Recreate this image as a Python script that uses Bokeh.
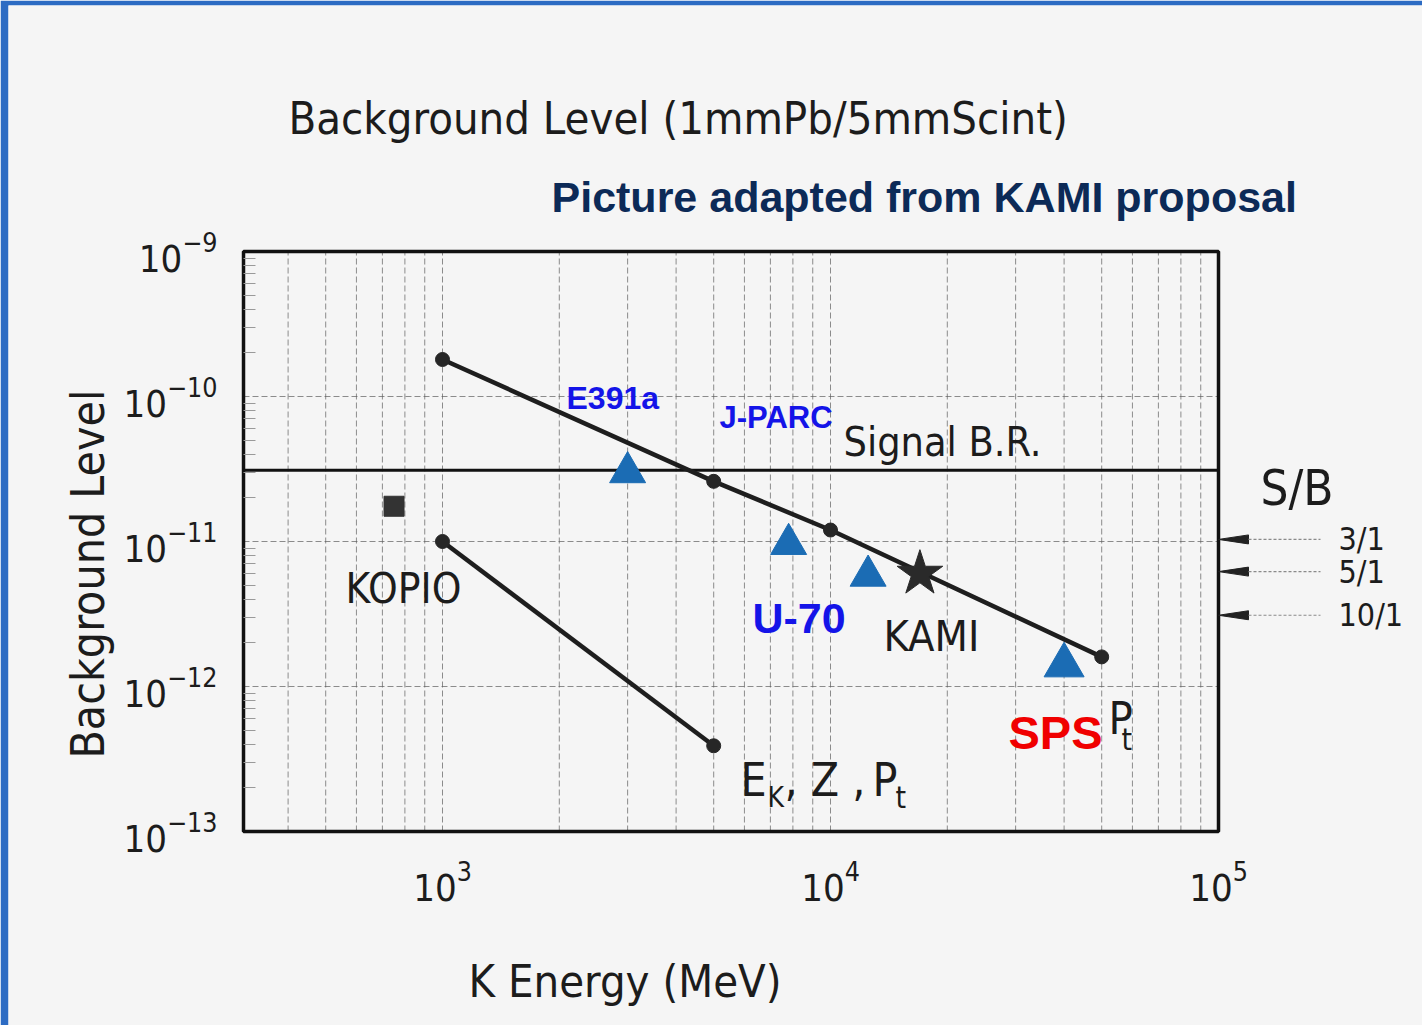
import math

from bokeh.plotting import figure
from bokeh.models import Label, FixedTicker
from bokeh.embed import file_html
from bokeh.resources import INLINE

# ---------------- data ----------------
upper_energy = [1000, 5000, 10000, 50000]          # MeV
upper_level = [1.8e-10, 2.6e-11, 1.2e-11, 1.6e-12]
lower_energy = [1000, 5000]
lower_level = [1.0e-11, 3.9e-13]
kopio_energy = [750]
kopio_level = [1.75e-11]
kami_energy = [17000]
kami_level = [6.0e-12]
facility_names = ["E391a", "U-70", "J-PARC", "SPS"]
facility_energy = [3000, 7800, 12500, 40000]
facility_level = [3.0e-11, 9.6e-12, 5.8e-12, 1.4e-12]
signal_br = 3.1e-11
sb_ratios = [3, 5, 10]
sb_labels = ["3/1", "5/1", "10/1"]

x_ticks = [1e3, 1e4, 1e5]
y_ticks = [1e-13, 1e-12, 1e-11, 1e-10, 1e-9]
x_grid = [400, 500, 600, 700, 800, 900,
          1000, 2000, 3000, 4000, 5000, 6000, 7000, 8000, 9000,
          10000, 20000, 30000, 40000, 50000, 60000, 70000, 80000, 90000]
y_grid = [1e-12, 1e-11, 1e-10]
y_minor = [k * 10.0 ** e for e in (-13, -12, -11, -10) for k in range(2, 10)]
energy_limits = [307, 1e5]
level_limits = [1e-13, 1e-9]

# ---------------- layout ----------------
W, H = 1422, 1025
EDGE_L, EDGE_T = 8, 5          # blue slide edge
X0_PX, X_DEC = 442, 388        # pixel of 1e3 MeV, pixels per decade
Y0_PX, Y_DEC = 251, 145        # pixel of 1e-9, pixels per decade

x_start = 10 ** (3 - (X0_PX - EDGE_L) / X_DEC)
x_end = 10 ** (3 + (W - X0_PX) / X_DEC)
y_end = 10 ** (-9 + (Y0_PX - EDGE_T) / Y_DEC)
y_start = 10 ** (-9 - (H - Y0_PX) / Y_DEC)


def at(px, py):
    """Page pixel -> data coordinates on the log/log scales."""
    return 10 ** (3 + (px - X0_PX) / X_DEC), 10 ** (-9 - (py - Y0_PX) / Y_DEC)


PAPER = "#f5f5f5"
BLUE_EDGE = "#2c6bc3"
INK = "#1c1c1c"
SCAN_FONT = "DejaVu Sans Condensed"
BOLD_FONT = "Liberation Sans"

p = figure(width=W, height=H, x_axis_type="log", y_axis_type="log",
           x_range=(x_start, x_end), y_range=(y_start, y_end),
           output_backend="svg", toolbar_location=None, title=None,
           min_border_left=EDGE_L, min_border_top=EDGE_T,
           min_border_right=0, min_border_bottom=0,
           background_fill_color=PAPER, border_fill_color=BLUE_EDGE,
           outline_line_color=None)
p.xgrid.visible = False
p.ygrid.visible = False

# axes pinned to the plot box
xa = p.xaxis[0]
xa.fixed_location = level_limits[0]
xa.bounds = (energy_limits[0], energy_limits[1])
xa.ticker = FixedTicker(ticks=x_ticks, minor_ticks=[])
xa.axis_line_color = None
xa.major_tick_line_color = None
xa.minor_tick_line_color = None
xa.major_label_standoff = 22
xa.major_label_text_font = SCAN_FONT
xa.major_label_text_font_size = "38px"
xa.major_label_text_color = INK

ya = p.yaxis[0]
ya.fixed_location = energy_limits[0]
ya.bounds = (level_limits[0], level_limits[1])
ya.ticker = FixedTicker(ticks=y_ticks, minor_ticks=y_minor)
ya.axis_line_color = None
ya.major_tick_line_color = None
ya.minor_tick_in = 12
ya.minor_tick_out = 0
ya.minor_tick_line_color = "#9a9a9a"
ya.major_label_standoff = 20
ya.major_label_text_font = SCAN_FONT
ya.major_label_text_font_size = "38px"
ya.major_label_text_color = INK

# grid lines inside the box
nx, ny = len(x_grid), len(y_grid)
p.segment(x0=x_grid, x1=x_grid, y0=[level_limits[0]] * nx, y1=[level_limits[1]] * nx,
          line_color="#5e5e5e", line_alpha=0.7, line_width=1, line_dash="6 3")
p.segment(x0=[energy_limits[0]] * ny, x1=[energy_limits[1]] * ny, y0=y_grid, y1=y_grid,
          line_color="#5e5e5e", line_alpha=0.7, line_width=1, line_dash="6 3")

# plot box
p.quad(left=[energy_limits[0]], right=[energy_limits[1]],
       bottom=[level_limits[0]], top=[level_limits[1]],
       fill_color=None, line_color="#111111", line_width=3.5)

# signal branching ratio
p.segment(x0=[energy_limits[0]], x1=[energy_limits[1]], y0=[signal_br], y1=[signal_br],
          line_color="#111111", line_width=3)

# background curves
p.line(upper_energy, upper_level, line_color="#1e1e1e", line_width=4.5)
p.scatter(upper_energy, upper_level, size=14, color="#262626")
p.line(lower_energy, lower_level, line_color="#1e1e1e", line_width=4.5)
p.scatter(lower_energy, lower_level, size=14, color="#262626")

# KOPIO and KAMI points
p.scatter(kopio_energy, kopio_level, marker="square", size=20, color="#333333")
p.scatter(kami_energy, kami_level, marker="star", size=48, color="#2a2a2a")

# other facilities
p.scatter(facility_energy, facility_level, marker="triangle", size=[36, 36, 36, 40],
          color="#1b6cb4")

# S/B markers beyond the right edge
sb_level = [signal_br / r for r in sb_ratios]
head_len = 10 ** (30 / X_DEC)
head_half = 10 ** (4.5 / Y_DEC)
guide_len = 10 ** (102 / X_DEC)
xe = energy_limits[1]
p.patches(xs=[[xe, xe * head_len, xe * head_len] for _ in sb_level],
          ys=[[y, y * head_half, y / head_half] for y in sb_level],
          fill_color="#222222", line_color="#222222")
p.segment(x0=[xe * head_len] * len(sb_level), x1=[xe * guide_len] * len(sb_level),
          y0=sb_level, y1=sb_level, line_color="#8a8a8a", line_width=1.2, line_dash="3 2")
for lab, y in zip(sb_labels, sb_level):
    p.add_layout(Label(x=at(1338, 0)[0], y=y, text=lab, text_font=SCAN_FONT,
                       text_font_size="32px", text_color=INK, text_baseline="middle"))


def put(text, px, py, size, font=SCAN_FONT, color=INK, align="left",
        angle=0.0, style="normal"):
    """Place text with its baseline at page pixel (px, py)."""
    drop = 0.38 * size          # Label anchors below the glyph baseline
    if angle:
        px -= drop
    else:
        py -= drop
    x, y = at(px, py)
    p.add_layout(Label(x=x, y=y, text=text, text_font=font, text_font_size=f"{size}px",
                       text_color=color, text_align=align, text_baseline="alphabetic",
                       angle=angle, text_font_style=style))


put("Background Level (1mmPb/5mmScint)", 288, 135, 45)
put("Picture adapted from KAMI proposal", 551, 213, 43, font=BOLD_FONT,
    color="#0c2a57", style="bold")
put("Signal B.R.", 843, 457, 41)
put("KOPIO", 345, 604, 42)
put("KAMI", 883, 652, 43)
put("S/B", 1260, 507, 49)
put("E391a", 566, 410, 32, font=BOLD_FONT, color="#1414e8", style="bold")
put("J-PARC", 719, 429, 31, font=BOLD_FONT, color="#1414e8", style="bold")
put("U-70", 752, 634, 43, font=BOLD_FONT, color="#1414e8", style="bold")
put("SPS", 1008, 750, 47, font=BOLD_FONT, color="#f00000", style="bold")
put("P", 1108, 735, 45)
put("t", 1121, 750, 30)
put("E", 740, 797, 46)
put("K", 767, 808, 28)
put(", Z ,", 784, 797, 46)
put("P", 872, 797, 46)
put("t", 895, 808, 30)
put("Background  Level", 105, 567, 46, align="center", angle=math.pi / 2)
put("K Energy (MeV)", 468, 998, 45)

open("out.html", "w").write(file_html(p, INLINE))
